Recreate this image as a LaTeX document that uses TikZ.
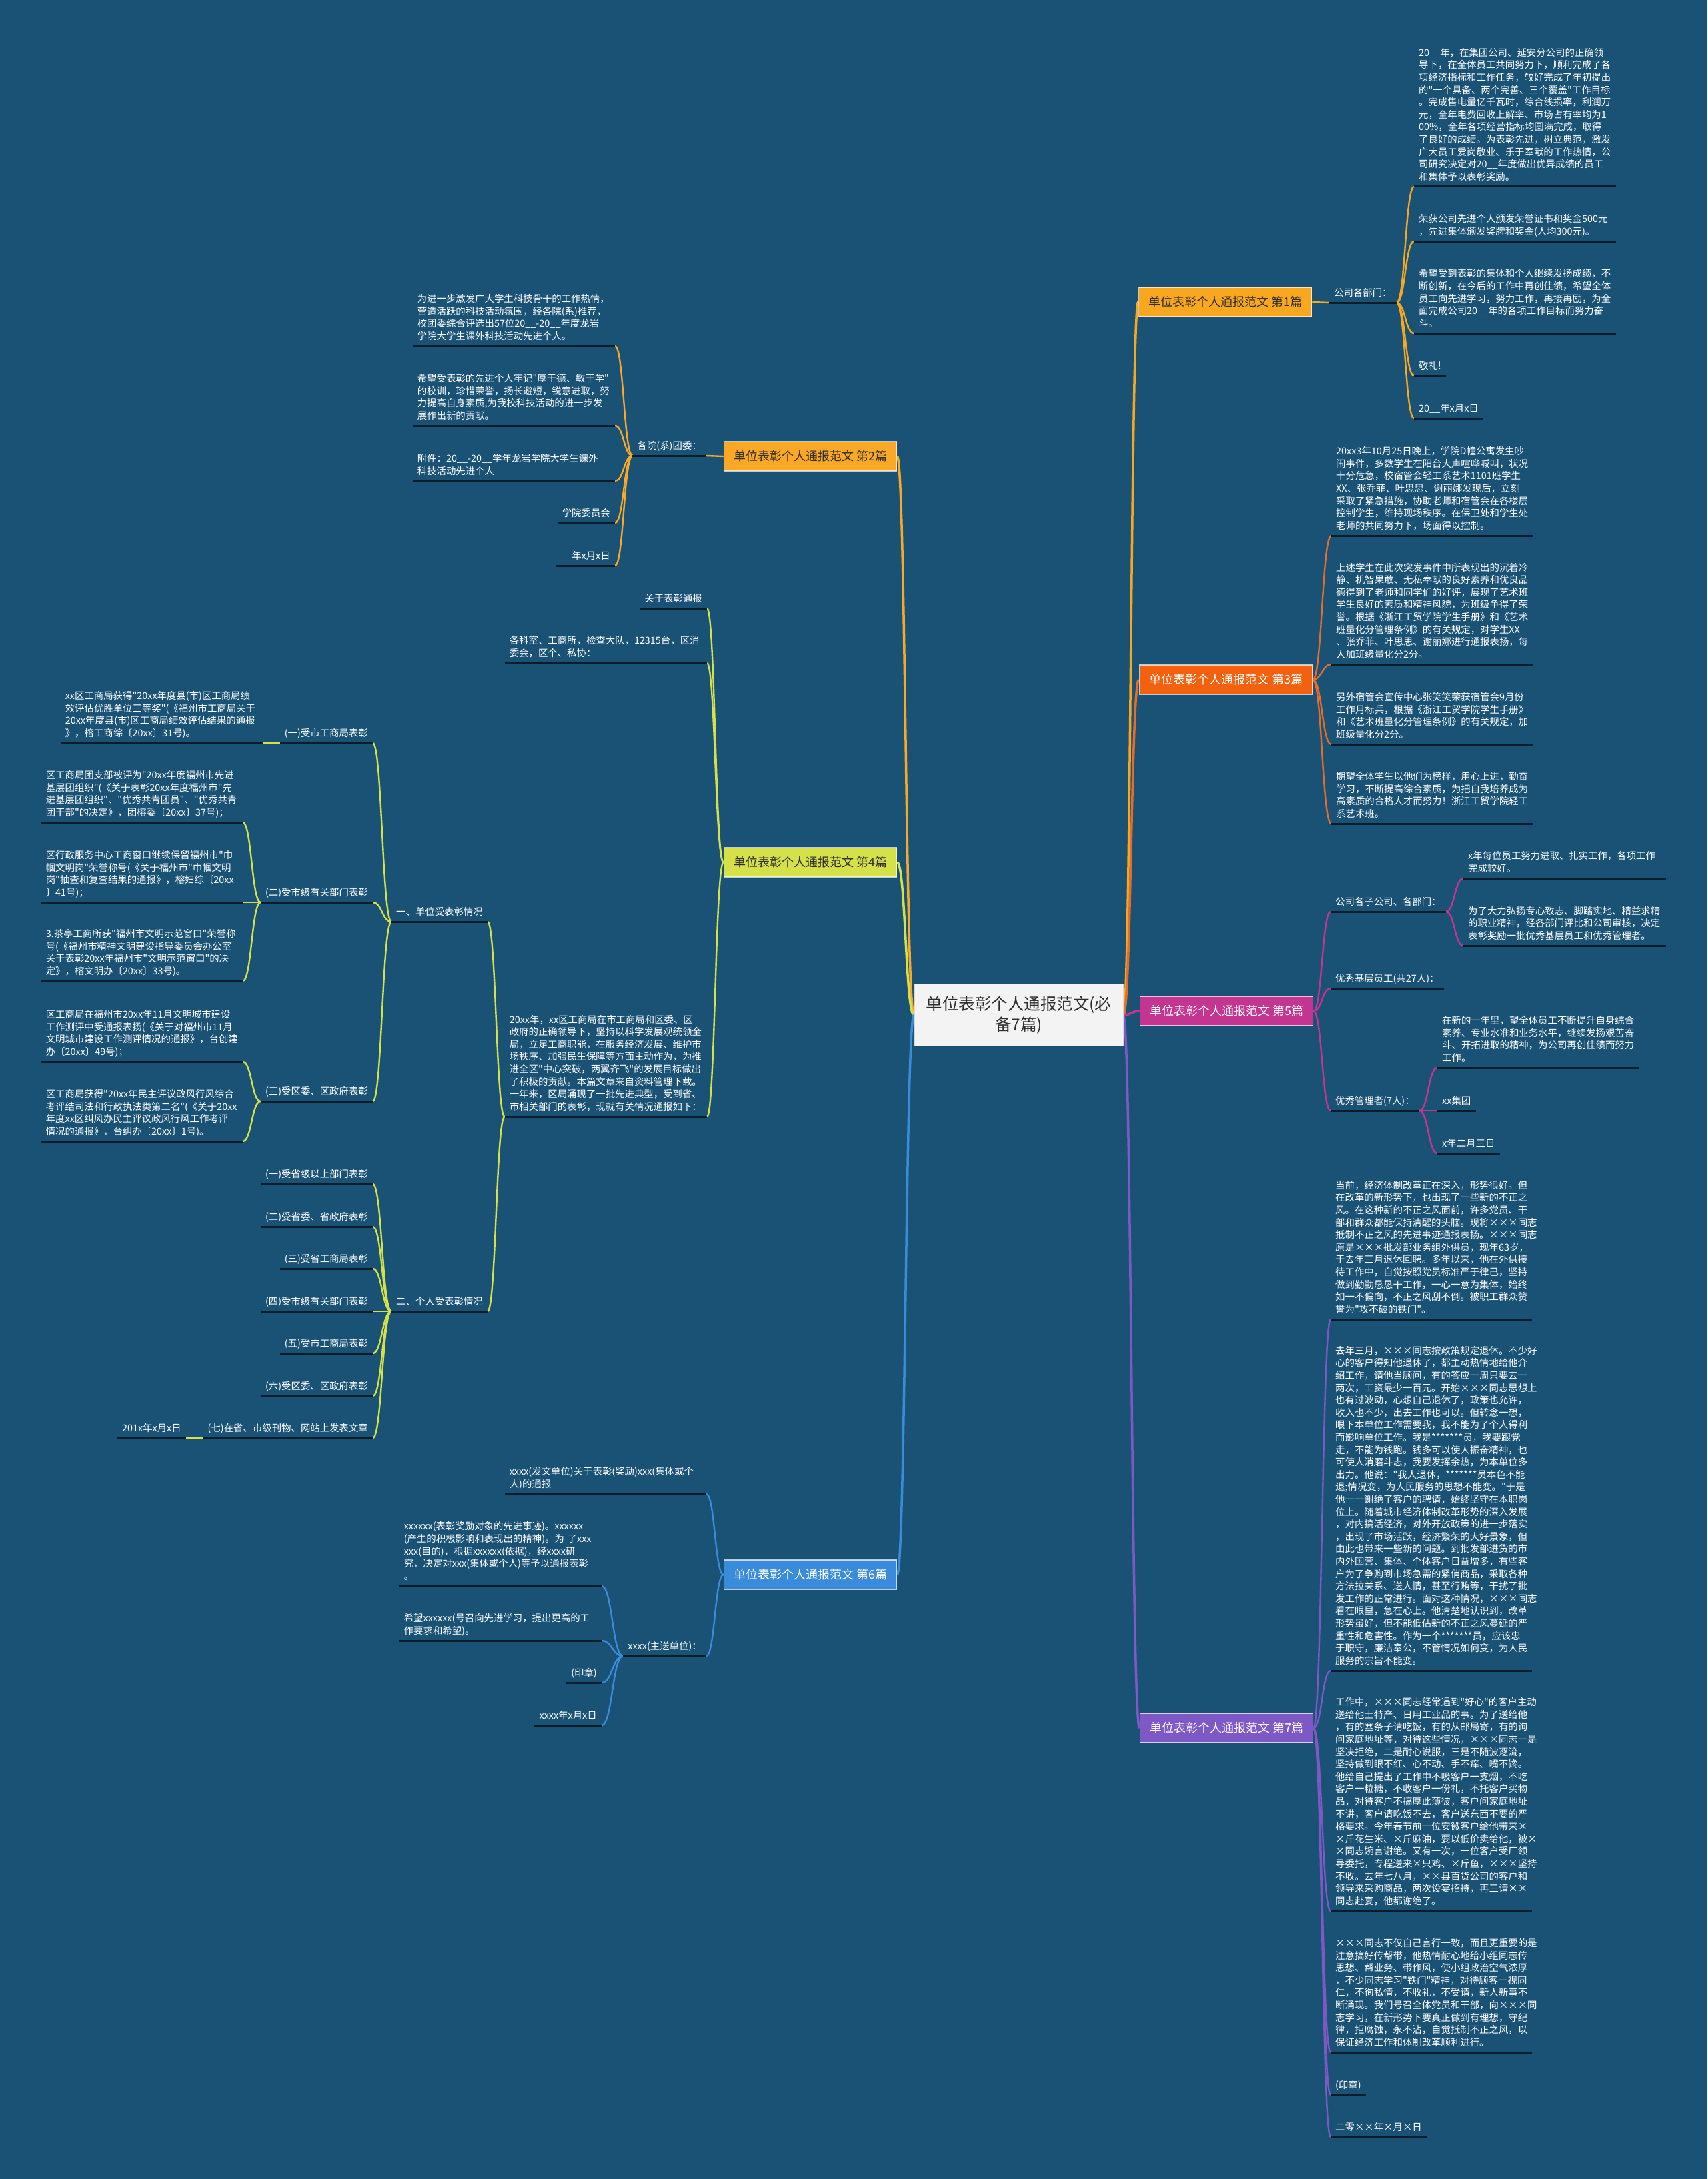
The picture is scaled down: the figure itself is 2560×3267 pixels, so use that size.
\documentclass[tikz,border=0pt]{standalone}
\usepackage{fontspec}
\setmainfont{Noto Sans CJK SC}[Ligatures=TeXOff]
\usetikzlibrary{calc,backgrounds}
\definecolor{bg}{RGB}{26,82,118}
\definecolor{ulc}{RGB}{12,28,40}
\definecolor{cfill}{RGB}{243,243,243}
\definecolor{cA}{RGB}{248,167,30}
\definecolor{cB}{RGB}{250,168,38}
\definecolor{cC}{RGB}{243,97,14}
\definecolor{cCl}{RGB}{228,108,44}
\definecolor{cD}{RGB}{214,224,72}
\definecolor{cE}{RGB}{196,52,145}
\definecolor{cF}{RGB}{58,140,218}
\definecolor{cG}{RGB}{126,88,196}
\definecolor{dtext}{RGB}{45,45,45}
\tikzset{
  conn/.style={line width=2.4pt, to path={let \p1=(\tikztostart), \p2=(\tikztotarget) in .. controls ({(\x1+\x2)/2},\y1) and ({(\x1+\x2)/2},\y2) .. (\tikztotarget)}},
  mainconn/.style={conn, line width=3.5pt},
  lvl1/.style={minimum width=259pt, minimum height=44pt, inner sep=0pt, font=\fontsize{18}{22}\selectfont, draw=white, draw opacity=0.7, line width=1.5pt},
  leaf/.style={font=\fontsize{14.4}{18.6}\selectfont, text=white, inner xsep=7pt, inner ysep=6.5pt, align=left, execute at end node={\rule[-3pt]{0pt}{3pt}}},
  lw/.style={leaf, anchor=south west},
  le/.style={leaf, anchor=south east},
  ul/.style={draw=ulc, line width=3pt},
}
\begin{document}
\begin{tikzpicture}[x=1pt,y=-1pt]
\useasboundingbox (0,0) rectangle (2560,3267);
% ---------- center and level 1
\node[fill=cfill, draw=black!15, line width=1pt, minimum width=313pt, minimum height=93pt, inner sep=0pt, align=center, font=\fontsize{24.5}{31}\selectfont, text=dtext] (c) at (1527.5,1522) {单位表彰个人通报范文(必\\备7篇)};
\node[lvl1, fill=cA, text=dtext] (b1) at (1837,453) {单位表彰个人通报范文 第1篇};
\node[lvl1, fill=cB, text=dtext] (b2) at (1215,684) {单位表彰个人通报范文 第2篇};
\node[lvl1, fill=cC, text=white] (b3) at (1838,1019) {单位表彰个人通报范文 第3篇};
\node[lvl1, fill=cD, text=dtext] (b4) at (1215,1293) {单位表彰个人通报范文 第4篇};
\node[lvl1, fill=cE, text=white] (b5) at (1839,1516) {单位表彰个人通报范文 第5篇};
\node[lvl1, fill=cF, text=white] (b6) at (1215,2361) {单位表彰个人通报范文 第6篇};
\node[lvl1, fill=cG, text=white] (b7) at (1839,2591) {单位表彰个人通报范文 第7篇};
% ---------- branch 1
\node[lw] (n1) at (1993,454) {公司各部门：};
\node[lw, text width=289pt] (n1a) at (2120,280) {20\_\_年，在集团公司、延安分公司的正确领\\导下，在全体员工共同努力下，顺利完成了各\\项经济指标和工作任务，较好完成了年初提出\\的"一个具备、两个完善、三个覆盖"工作目标\\。完成售电量亿千瓦时，综合线损率，利润万\\元，全年电费回收上解率、市场占有率均为1\\00\%，全年各项经营指标均圆满完成，取得\\了良好的成绩。为表彰先进，树立典范，激发\\广大员工爱岗敬业、乐于奉献的工作热情，公\\司研究决定对20\_\_年度做出优异成绩的员工\\和集体予以表彰奖励。};
\node[lw, text width=289pt] (n1b) at (2120,362) {荣获公司先进个人颁发荣誉证书和奖金500元\\，先进集体颁发奖牌和奖金(人均300元)。};
\node[lw, text width=289pt] (n1c) at (2120,500) {希望受到表彰的集体和个人继续发扬成绩，不\\断创新，在今后的工作中再创佳绩，希望全体\\员工向先进学习，努力工作，再接再励，为全\\面完成公司20\_\_年的各项工作目标而努力奋\\斗。};
\node[lw] (n1d) at (2120,563) {敬礼!};
\node[lw] (n1e) at (2120,627) {20\_\_年x月x日};
% ---------- branch 2
\node[le] (n2) at (1059,683) {各院(系)团委：};
\node[le, text width=289pt] (n2a) at (922,519) {为进一步激发广大学生科技骨干的工作热情，\\营造活跃的科技活动氛围，经各院(系)推荐，\\校团委综合评选出57位20\_\_-20\_\_年度龙岩\\学院大学生课外科技活动先进个人。};
\node[le, text width=289pt] (n2b) at (922,638) {希望受表彰的先进个人牢记"厚于德、敏于学"\\的校训，珍惜荣誉，扬长避短，锐意进取，努\\力提高自身素质,为我校科技活动的进一步发\\展作出新的贡献。};
\node[le, text width=289pt] (n2c) at (922,721) {附件：20\_\_-20\_\_学年龙岩学院大学生课外\\科技活动先进个人};
\node[le] (n2d) at (922,784) {学院委员会};
\node[le] (n2e) at (922,848) {\_\_年x月x日};
% ---------- branch 3
\node[lw, text width=288pt] (n3a) at (1996,803) {20xx3年10月25日晚上，学院D幢公寓发生吵\\闹事件，多数学生在阳台大声喧哗喊叫，状况\\十分危急，校宿管会轻工系艺术1101班学生\\XX、张乔菲、叶思思、谢丽娜发现后，立刻\\采取了紧急措施，协助老师和宿管会在各楼层\\控制学生，维持现场秩序。在保卫处和学生处\\老师的共同努力下，场面得以控制。};
\node[lw, text width=288pt] (n3b) at (1996,996) {上述学生在此次突发事件中所表现出的沉着冷\\静、机智果敢、无私奉献的良好素养和优良品\\德得到了老师和同学们的好评，展现了艺术班\\学生良好的素质和精神风貌，为班级争得了荣\\誉。根据《浙江工贸学院学生手册》和《艺术\\班量化分管理条例》的有关规定，对学生XX\\、张乔菲、叶思思、谢丽娜进行通报表扬，每\\人加班级量化分2分。};
\node[lw, text width=288pt] (n3c) at (1996,1116) {另外宿管会宣传中心张笑笑荣获宿管会9月份\\工作月标兵，根据《浙江工贸学院学生手册》\\和《艺术班量化分管理条例》的有关规定，加\\班级量化分2分。};
\node[lw, text width=288pt] (n3d) at (1996,1235) {期望全体学生以他们为榜样，用心上进，勤奋\\学习，不断提高综合素质，为把自我培养成为\\高素质的合格人才而努力！浙江工贸学院轻工\\系艺术班。};
% ---------- branch 4
\node[le] (n4a) at (1060,912) {关于表彰通报};
\node[le, text width=289pt] (n4b) at (1060,994) {各科室、工商所，检查大队，12315台，区消\\委会，区个、私协：};
\node[le, text width=289pt] (n4c) at (1060,1674) {20xx年，xx区工商局在市工商局和区委、区\\政府的正确领导下，坚持以科学发展观统领全\\局，立足工商职能，在服务经济发展、维护市\\场秩序、加强民生保障等方面主动作为，为推\\进全区"中心突破，两翼齐飞"的发展目标做出\\了积极的贡献。本篇文章来自资料管理下载。\\一年来，区局涌现了一批先进典型，受到省、\\市相关部门的表彰，现就有关情况通报如下：};
\node[le] (n4d) at (731,1382) {一、单位受表彰情况};
\node[le] (n4e) at (731,1966) {二、个人受表彰情况};
\node[le] (n4d1) at (559,1114) {(一)受市工商局表彰};
\node[le, text width=290pt] (n4d1a) at (395,1114) {xx区工商局获得"20xx年度县(市)区工商局绩\\效评估优胜单位三等奖"(《福州市工商局关于\\20xx年度县(市)区工商局绩效评估结果的通报\\》，榕工商综〔20xx〕31号)。};
\node[le] (n4d2) at (559,1353) {(二)受市级有关部门表彰};
\node[le, text width=288pt] (n4d2a) at (364,1233) {区工商局团支部被评为"20xx年度福州市先进\\基层团组织"(《关于表彰20xx年度福州市"先\\进基层团组织"、"优秀共青团员"、"优秀共青\\团干部"的决定》，团榕委〔20xx〕37号)；};
\node[le, text width=288pt] (n4d2b) at (364,1353) {区行政服务中心工商窗口继续保留福州市"巾\\帼文明岗"荣誉称号(《关于福州市"巾帼文明\\岗"抽查和复查结果的通报》，榕妇综〔20xx\\〕41号)；};
\node[le, text width=288pt] (n4d2c) at (364,1471) {3.茶亭工商所获"福州市文明示范窗口"荣誉称\\号(《福州市精神文明建设指导委员会办公室\\关于表彰20xx年福州市"文明示范窗口"的决\\定》，榕文明办〔20xx〕33号)。};
\node[le] (n4d3) at (559,1651) {(三)受区委、区政府表彰};
\node[le, text width=288pt] (n4d3a) at (364,1592) {区工商局在福州市20xx年11月文明城市建设\\工作测评中受通报表扬(《关于对福州市11月\\文明城市建设工作测评情况的通报》，台创建\\办〔20xx〕49号)；};
\node[le, text width=288pt] (n4d3b) at (364,1711) {区工商局获得"20xx年民主评议政风行风综合\\考评结司法和行政执法类第二名"(《关于20xx\\年度xx区纠风办民主评议政风行风工作考评\\情况的通报》，台纠办〔20xx〕1号)。};
\node[le] (n4e1) at (559,1775) {(一)受省级以上部门表彰};
\node[le] (n4e2) at (559,1839) {(二)受省委、省政府表彰};
\node[le] (n4e3) at (559,1902) {(三)受省工商局表彰};
\node[le] (n4e4) at (559,1966) {(四)受市级有关部门表彰};
\node[le] (n4e5) at (559,2029) {(五)受市工商局表彰};
\node[le] (n4e6) at (559,2093) {(六)受区委、区政府表彰};
\node[le] (n4e7) at (559,2156) {(七)在省、市级刊物、网站上发表文章};
\node[le] (n4e7a) at (279,2156) {201x年x月x日};
% ---------- branch 5
\node[lw] (n5a) at (1995,1367) {公司各子公司、各部门：};
\node[lw, text width=290pt] (n5a1) at (2194,1317) {x年每位员工努力进取、扎实工作，各项工作\\完成较好。};
\node[lw, text width=290pt] (n5a2) at (2194,1418) {为了大力弘扬专心致志、脚踏实地、精益求精\\的职业精神，经各部门评比和公司审核，决定\\表彰奖励一批优秀基层员工和优秀管理者。};
\node[lw] (n5b) at (1995,1482) {优秀基层员工(共27人)：};
\node[lw] (n5c) at (1995,1665) {优秀管理者(7人)：};
\node[lw, text width=288pt] (n5c1) at (2155,1601) {在新的一年里，望全体员工不断提升自身综合\\素养、专业水准和业务水平，继续发扬艰苦奋\\斗、开拓进取的精神，为公司再创佳绩而努力\\工作。};
\node[lw] (n5c2) at (2155,1665) {xx集团};
\node[lw] (n5c3) at (2155,1729) {x年二月三日};
% ---------- branch 6
\node[le, text width=288pt] (n6a) at (1059,2240) {xxxx(发文单位)关于表彰(奖励)xxx(集体或个\\人)的通报};
\node[le] (n6b) at (1059,2483) {xxxx(主送单位)：};
\node[le, text width=289pt] (n6b1) at (902,2378) {xxxxxx(表彰奖励对象的先进事迹)。xxxxxx\\(产生的积极影响和表现出的精神)。为 了xxx\\xxx(目的)，根据xxxxxx(依据)，经xxxx研\\究，决定对xxx(集体或个人)等予以通报表彰\\。};
\node[le, text width=289pt] (n6b2) at (902,2460) {希望xxxxxx(号召向先进学习，提出更高的工\\作要求和希望)。};
\node[le] (n6b3) at (902,2523) {(印章)};
\node[le] (n6b4) at (902,2587) {xxxx年x月x日};
% ---------- branch 7
\node[lw, text width=288pt] (n7a) at (1995,1978) {当前，经济体制改革正在深入，形势很好。但\\在改革的新形势下，也出现了一些新的不正之\\风。在这种新的不正之风面前，许多党员、干\\部和群众都能保持清醒的头脑。现将×××同志\\抵制不正之风的先进事迹通报表扬。×××同志\\原是×××批发部业务组外供员，现年63岁，\\于去年三月退休回聘。多年以来，他在外供接\\待工作中，自觉按照党员标准严于律己，坚持\\做到勤勤恳恳干工作，一心一意为集体，始终\\如一不偏向，不正之风刮不倒。被职工群众赞\\誉为"攻不破的铁门"。};
\node[lw, text width=288pt] (n7b) at (1995,2505) {去年三月，×××同志按政策规定退休。不少好\\心的客户得知他退休了，都主动热情地给他介\\绍工作，请他当顾问，有的答应一周只要去一\\两次，工资最少一百元。开始×××同志思想上\\也有过波动，心想自己退休了，政策也允许，\\收入也不少，出去工作也可以。但转念一想，\\眼下本单位工作需要我，我不能为了个人得利\\而影响单位工作。我是*******员，我要跟党\\走，不能为钱跑。钱多可以使人振奋精神，也\\可使人消磨斗志，我要发挥余热，为本单位多\\出力。他说："我人退休，*******员本色不能\\退;情况变，为人民服务的思想不能变。"于是\\他一一谢绝了客户的聘请，始终坚守在本职岗\\位上。随着城市经济体制改革形势的深入发展\\，对内搞活经济，对外开放政策的进一步落实\\，出现了市场活跃，经济繁荣的大好景象，但\\由此也带来一些新的问题。到批发部进货的市\\内外国营、集体、个体客户日益增多，有些客\\户为了争购到市场急需的紧俏商品，采取各种\\方法拉关系、送人情，甚至行贿等，干扰了批\\发工作的正常进行。面对这种情况，×××同志\\看在眼里，急在心上。他清楚地认识到，改革\\形势虽好，但不能低估新的不正之风蔓延的严\\重性和危害性。作为一个*******员，应该忠\\于职守，廉洁奉公，不管情况如何变，为人民\\服务的宗旨不能变。};
\node[lw, text width=288pt] (n7c) at (1995,2865) {工作中，×××同志经常遇到"好心"的客户主动\\送给他土特产、日用工业品的事。为了送给他\\，有的塞条子请吃饭，有的从邮局寄，有的询\\问家庭地址等，对待这些情况，×××同志一是\\坚决拒绝，二是耐心说服，三是不随波逐流，\\坚持做到眼不红、心不动、手不痒、嘴不馋。\\他给自己提出了工作中不吸客户一支烟，不吃\\客户一粒糖，不收客户一份礼，不托客户买物\\品，对待客户不搞厚此薄彼，客户问家庭地址\\不讲，客户请吃饭不去，客户送东西不要的严\\格要求。今年春节前一位安徽客户给他带来×\\×斤花生米、×斤麻油，要以低价卖给他，被×\\×同志婉言谢绝。又有一次，一位客户受厂领\\导委托，专程送来×只鸡、×斤鱼，×××坚持\\不收。去年七八月，××县百货公司的客户和\\领导来采购商品，两次设宴招持，再三请××\\同志赴宴，他都谢绝了。};
\node[lw, text width=288pt] (n7d) at (1995,3077) {×××同志不仅自己言行一致，而且更重要的是\\注意搞好传帮带，他热情耐心地给小组同志传\\思想、帮业务、带作风，使小组政治空气浓厚\\，不少同志学习"铁门"精神，对待顾客一视同\\仁，不徇私情，不收礼，不受请，新人新事不\\断涌现。我们号召全体党员和干部，向×××同\\志学习，在新形势下要真正做到有理想，守纪\\律，拒腐蚀，永不沾，自觉抵制不正之风，以\\保证经济工作和体制改革顺利进行。};
\node[lw] (n7e) at (1995,3141) {(印章)};
\node[lw] (n7f) at (1995,3204) {二零××年×月×日};
% ---------- connectors
\begin{pgfonlayer}{background}
\fill[bg] (0,0) rectangle (2560,3267);
\draw[mainconn, cA] (c.east) to (b1.west);
\draw[mainconn, cCl] (c.east) to (b3.west);
\draw[mainconn, cE] (c.east) to (b5.west);
\draw[mainconn, cG] (c.east) to (b7.west);
\draw[mainconn, cB] (c.west) to (b2.east);
\draw[mainconn, cD] (c.west) to (b4.east);
\draw[mainconn, cF] (c.west) to (b6.east);
% b1
\draw[conn, cA] (b1.east) to (n1.south west);
\foreach \t in {n1a,n1b,n1c,n1d,n1e} \draw[conn, cA] (n1.south east) to (\t.south west);
% b2
\draw[conn, cB] (b2.west) to (n2.south east);
\foreach \t in {n2a,n2b,n2c,n2d,n2e} \draw[conn, cB] (n2.south west) to (\t.south east);
% b3
\foreach \t in {n3a,n3b,n3c,n3d} \draw[conn, cCl] (b3.east) to (\t.south west);
% b4
\foreach \t in {n4a,n4b,n4c} \draw[conn, cD] (b4.west) to (\t.south east);
\foreach \t in {n4d,n4e} \draw[conn, cD] (n4c.south west) to (\t.south east);
\foreach \t in {n4d1,n4d2,n4d3} \draw[conn, cD] (n4d.south west) to (\t.south east);
\draw[conn, cD] (n4d1.south west) to (n4d1a.south east);
\foreach \t in {n4d2a,n4d2b,n4d2c} \draw[conn, cD] (n4d2.south west) to (\t.south east);
\foreach \t in {n4d3a,n4d3b} \draw[conn, cD] (n4d3.south west) to (\t.south east);
\foreach \t in {n4e1,n4e2,n4e3,n4e4,n4e5,n4e6,n4e7} \draw[conn, cD] (n4e.south west) to (\t.south east);
\draw[conn, cD] (n4e7.south west) to (n4e7a.south east);
% b5
\foreach \t in {n5a,n5b,n5c} \draw[conn, cE] (b5.east) to (\t.south west);
\foreach \t in {n5a1,n5a2} \draw[conn, cE] (n5a.south east) to (\t.south west);
\foreach \t in {n5c1,n5c2,n5c3} \draw[conn, cE] (n5c.south east) to (\t.south west);
% b6
\foreach \t in {n6a,n6b} \draw[conn, cF] (b6.west) to (\t.south east);
\foreach \t in {n6b1,n6b2,n6b3,n6b4} \draw[conn, cF] (n6b.south west) to (\t.south east);
% b7
\foreach \t in {n7a,n7b,n7c,n7d,n7e,n7f} \draw[conn, cG] (b7.east) to (\t.south west);
\end{pgfonlayer}
% ---------- underlines
\foreach \n in {n1,n1a,n1b,n1c,n1d,n1e,n2,n2a,n2b,n2c,n2d,n2e,n3a,n3b,n3c,n3d,n4a,n4b,n4c,n4d,n4e,n4d1,n4d1a,n4d2,n4d2a,n4d2b,n4d2c,n4d3,n4d3a,n4d3b,n4e1,n4e2,n4e3,n4e4,n4e5,n4e6,n4e7,n4e7a,n5a,n5a1,n5a2,n5b,n5c,n5c1,n5c2,n5c3,n6a,n6b,n6b1,n6b2,n6b3,n6b4,n7a,n7b,n7c,n7d,n7e,n7f}
  \draw[ul] (\n.south west) -- (\n.south east);
\end{tikzpicture}
\end{document}
